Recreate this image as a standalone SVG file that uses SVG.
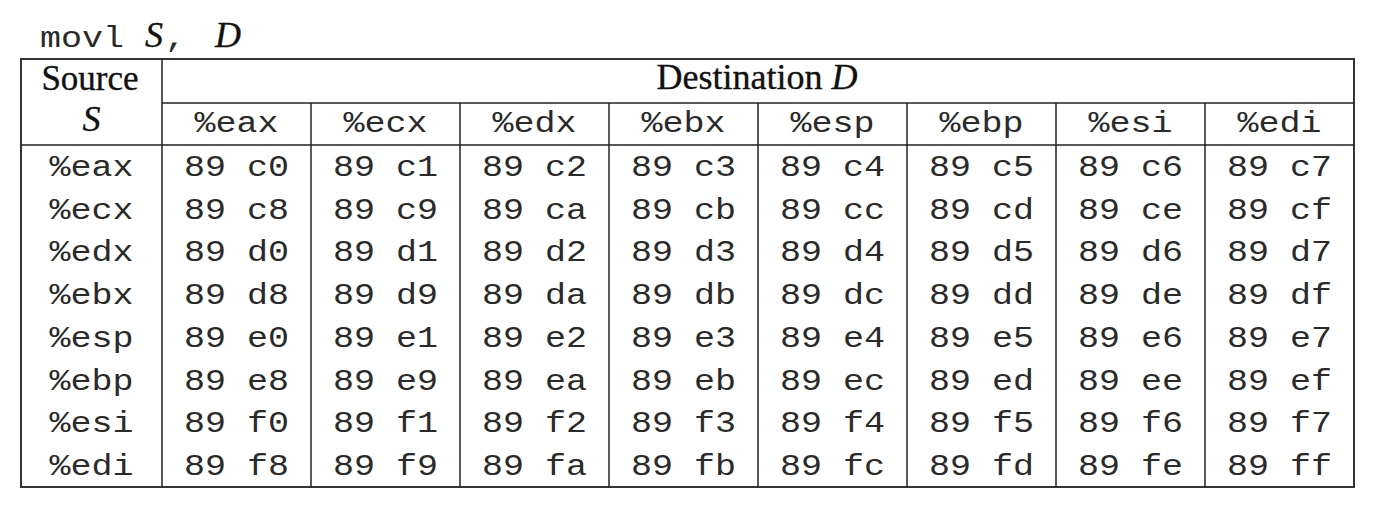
<svg xmlns="http://www.w3.org/2000/svg" width="1376" height="509" viewBox="0 0 1376 509">
<style>
.m{font-family:"Liberation Mono","Courier New",monospace;font-size:29.5px;text-anchor:middle;fill:#2a2a2a}
.s{font-family:"Liberation Serif","Times New Roman",serif;font-size:36px;fill:#111;stroke:#111;stroke-width:0.35}
.i{font-style:italic}
.ln{stroke:#222;stroke-width:1.5;fill:none}
.ob{stroke:#333;stroke-width:2;fill:none}
</style>
<rect width="1376" height="509" fill="#fff"/>
<g id="title">
<text class="m" style="text-anchor:start" x="40" y="47" textLength="84" lengthAdjust="spacingAndGlyphs">movl</text>
<text class="s i" x="145" y="47">S</text>
<text class="m" style="text-anchor:start" x="165" y="47" textLength="21" lengthAdjust="spacingAndGlyphs">,</text>
<text class="s i" x="215" y="47">D</text>
</g>
<g id="grid">
<rect class="ob" x="21" y="59" width="1333" height="428"/>
<line class="ln" x1="162" y1="59" x2="162" y2="487"/>
<line class="ln" x1="162" y1="103" x2="1354" y2="103"/>
<line class="ln" x1="21" y1="145" x2="1354" y2="145"/>
<line class="ln" x1="311" y1="103" x2="311" y2="487"/>
<line class="ln" x1="460" y1="103" x2="460" y2="487"/>
<line class="ln" x1="609" y1="103" x2="609" y2="487"/>
<line class="ln" x1="758" y1="103" x2="758" y2="487"/>
<line class="ln" x1="907" y1="103" x2="907" y2="487"/>
<line class="ln" x1="1056" y1="103" x2="1056" y2="487"/>
<line class="ln" x1="1205" y1="103" x2="1205" y2="487"/>
</g>
<g id="header">
<text class="s" x="90" y="90" text-anchor="middle" style="font-size:35px">Source</text>
<text class="s i" x="91.5" y="131" text-anchor="middle">S</text>
<text class="s" x="757" y="89" text-anchor="middle">Destination <tspan class="i">D</tspan></text>
<g class="m">
<text x="236.5" y="132" textLength="84" lengthAdjust="spacingAndGlyphs">%eax</text>
<text x="385.5" y="132" textLength="84" lengthAdjust="spacingAndGlyphs">%ecx</text>
<text x="534.5" y="132" textLength="84" lengthAdjust="spacingAndGlyphs">%edx</text>
<text x="683.5" y="132" textLength="84" lengthAdjust="spacingAndGlyphs">%ebx</text>
<text x="832.5" y="132" textLength="84" lengthAdjust="spacingAndGlyphs">%esp</text>
<text x="981.5" y="132" textLength="84" lengthAdjust="spacingAndGlyphs">%ebp</text>
<text x="1130.5" y="132" textLength="84" lengthAdjust="spacingAndGlyphs">%esi</text>
<text x="1279.5" y="132" textLength="84" lengthAdjust="spacingAndGlyphs">%edi</text>
</g>
</g>
<g id="rowlabels" class="m">
<text x="91.5" y="176" textLength="84" lengthAdjust="spacingAndGlyphs">%eax</text>
<text x="91.5" y="218.7" textLength="84" lengthAdjust="spacingAndGlyphs">%ecx</text>
<text x="91.5" y="261.4" textLength="84" lengthAdjust="spacingAndGlyphs">%edx</text>
<text x="91.5" y="304.1" textLength="84" lengthAdjust="spacingAndGlyphs">%ebx</text>
<text x="91.5" y="346.8" textLength="84" lengthAdjust="spacingAndGlyphs">%esp</text>
<text x="91.5" y="389.5" textLength="84" lengthAdjust="spacingAndGlyphs">%ebp</text>
<text x="91.5" y="432.2" textLength="84" lengthAdjust="spacingAndGlyphs">%esi</text>
<text x="91.5" y="475" textLength="84" lengthAdjust="spacingAndGlyphs">%edi</text>
</g>
<g id="row-eax" class="m">
<text x="236.5" y="176" textLength="105" lengthAdjust="spacingAndGlyphs">89 c0</text>
<text x="385.5" y="176" textLength="105" lengthAdjust="spacingAndGlyphs">89 c1</text>
<text x="534.5" y="176" textLength="105" lengthAdjust="spacingAndGlyphs">89 c2</text>
<text x="683.5" y="176" textLength="105" lengthAdjust="spacingAndGlyphs">89 c3</text>
<text x="832.5" y="176" textLength="105" lengthAdjust="spacingAndGlyphs">89 c4</text>
<text x="981.5" y="176" textLength="105" lengthAdjust="spacingAndGlyphs">89 c5</text>
<text x="1130.5" y="176" textLength="105" lengthAdjust="spacingAndGlyphs">89 c6</text>
<text x="1279.5" y="176" textLength="105" lengthAdjust="spacingAndGlyphs">89 c7</text>
</g>
<g id="row-ecx" class="m">
<text x="236.5" y="218.7" textLength="105" lengthAdjust="spacingAndGlyphs">89 c8</text>
<text x="385.5" y="218.7" textLength="105" lengthAdjust="spacingAndGlyphs">89 c9</text>
<text x="534.5" y="218.7" textLength="105" lengthAdjust="spacingAndGlyphs">89 ca</text>
<text x="683.5" y="218.7" textLength="105" lengthAdjust="spacingAndGlyphs">89 cb</text>
<text x="832.5" y="218.7" textLength="105" lengthAdjust="spacingAndGlyphs">89 cc</text>
<text x="981.5" y="218.7" textLength="105" lengthAdjust="spacingAndGlyphs">89 cd</text>
<text x="1130.5" y="218.7" textLength="105" lengthAdjust="spacingAndGlyphs">89 ce</text>
<text x="1279.5" y="218.7" textLength="105" lengthAdjust="spacingAndGlyphs">89 cf</text>
</g>
<g id="row-edx" class="m">
<text x="236.5" y="261.4" textLength="105" lengthAdjust="spacingAndGlyphs">89 d0</text>
<text x="385.5" y="261.4" textLength="105" lengthAdjust="spacingAndGlyphs">89 d1</text>
<text x="534.5" y="261.4" textLength="105" lengthAdjust="spacingAndGlyphs">89 d2</text>
<text x="683.5" y="261.4" textLength="105" lengthAdjust="spacingAndGlyphs">89 d3</text>
<text x="832.5" y="261.4" textLength="105" lengthAdjust="spacingAndGlyphs">89 d4</text>
<text x="981.5" y="261.4" textLength="105" lengthAdjust="spacingAndGlyphs">89 d5</text>
<text x="1130.5" y="261.4" textLength="105" lengthAdjust="spacingAndGlyphs">89 d6</text>
<text x="1279.5" y="261.4" textLength="105" lengthAdjust="spacingAndGlyphs">89 d7</text>
</g>
<g id="row-ebx" class="m">
<text x="236.5" y="304.1" textLength="105" lengthAdjust="spacingAndGlyphs">89 d8</text>
<text x="385.5" y="304.1" textLength="105" lengthAdjust="spacingAndGlyphs">89 d9</text>
<text x="534.5" y="304.1" textLength="105" lengthAdjust="spacingAndGlyphs">89 da</text>
<text x="683.5" y="304.1" textLength="105" lengthAdjust="spacingAndGlyphs">89 db</text>
<text x="832.5" y="304.1" textLength="105" lengthAdjust="spacingAndGlyphs">89 dc</text>
<text x="981.5" y="304.1" textLength="105" lengthAdjust="spacingAndGlyphs">89 dd</text>
<text x="1130.5" y="304.1" textLength="105" lengthAdjust="spacingAndGlyphs">89 de</text>
<text x="1279.5" y="304.1" textLength="105" lengthAdjust="spacingAndGlyphs">89 df</text>
</g>
<g id="row-esp" class="m">
<text x="236.5" y="346.8" textLength="105" lengthAdjust="spacingAndGlyphs">89 e0</text>
<text x="385.5" y="346.8" textLength="105" lengthAdjust="spacingAndGlyphs">89 e1</text>
<text x="534.5" y="346.8" textLength="105" lengthAdjust="spacingAndGlyphs">89 e2</text>
<text x="683.5" y="346.8" textLength="105" lengthAdjust="spacingAndGlyphs">89 e3</text>
<text x="832.5" y="346.8" textLength="105" lengthAdjust="spacingAndGlyphs">89 e4</text>
<text x="981.5" y="346.8" textLength="105" lengthAdjust="spacingAndGlyphs">89 e5</text>
<text x="1130.5" y="346.8" textLength="105" lengthAdjust="spacingAndGlyphs">89 e6</text>
<text x="1279.5" y="346.8" textLength="105" lengthAdjust="spacingAndGlyphs">89 e7</text>
</g>
<g id="row-ebp" class="m">
<text x="236.5" y="389.5" textLength="105" lengthAdjust="spacingAndGlyphs">89 e8</text>
<text x="385.5" y="389.5" textLength="105" lengthAdjust="spacingAndGlyphs">89 e9</text>
<text x="534.5" y="389.5" textLength="105" lengthAdjust="spacingAndGlyphs">89 ea</text>
<text x="683.5" y="389.5" textLength="105" lengthAdjust="spacingAndGlyphs">89 eb</text>
<text x="832.5" y="389.5" textLength="105" lengthAdjust="spacingAndGlyphs">89 ec</text>
<text x="981.5" y="389.5" textLength="105" lengthAdjust="spacingAndGlyphs">89 ed</text>
<text x="1130.5" y="389.5" textLength="105" lengthAdjust="spacingAndGlyphs">89 ee</text>
<text x="1279.5" y="389.5" textLength="105" lengthAdjust="spacingAndGlyphs">89 ef</text>
</g>
<g id="row-esi" class="m">
<text x="236.5" y="432.2" textLength="105" lengthAdjust="spacingAndGlyphs">89 f0</text>
<text x="385.5" y="432.2" textLength="105" lengthAdjust="spacingAndGlyphs">89 f1</text>
<text x="534.5" y="432.2" textLength="105" lengthAdjust="spacingAndGlyphs">89 f2</text>
<text x="683.5" y="432.2" textLength="105" lengthAdjust="spacingAndGlyphs">89 f3</text>
<text x="832.5" y="432.2" textLength="105" lengthAdjust="spacingAndGlyphs">89 f4</text>
<text x="981.5" y="432.2" textLength="105" lengthAdjust="spacingAndGlyphs">89 f5</text>
<text x="1130.5" y="432.2" textLength="105" lengthAdjust="spacingAndGlyphs">89 f6</text>
<text x="1279.5" y="432.2" textLength="105" lengthAdjust="spacingAndGlyphs">89 f7</text>
</g>
<g id="row-edi" class="m">
<text x="236.5" y="475" textLength="105" lengthAdjust="spacingAndGlyphs">89 f8</text>
<text x="385.5" y="475" textLength="105" lengthAdjust="spacingAndGlyphs">89 f9</text>
<text x="534.5" y="475" textLength="105" lengthAdjust="spacingAndGlyphs">89 fa</text>
<text x="683.5" y="475" textLength="105" lengthAdjust="spacingAndGlyphs">89 fb</text>
<text x="832.5" y="475" textLength="105" lengthAdjust="spacingAndGlyphs">89 fc</text>
<text x="981.5" y="475" textLength="105" lengthAdjust="spacingAndGlyphs">89 fd</text>
<text x="1130.5" y="475" textLength="105" lengthAdjust="spacingAndGlyphs">89 fe</text>
<text x="1279.5" y="475" textLength="105" lengthAdjust="spacingAndGlyphs">89 ff</text>
</g>
</svg>
